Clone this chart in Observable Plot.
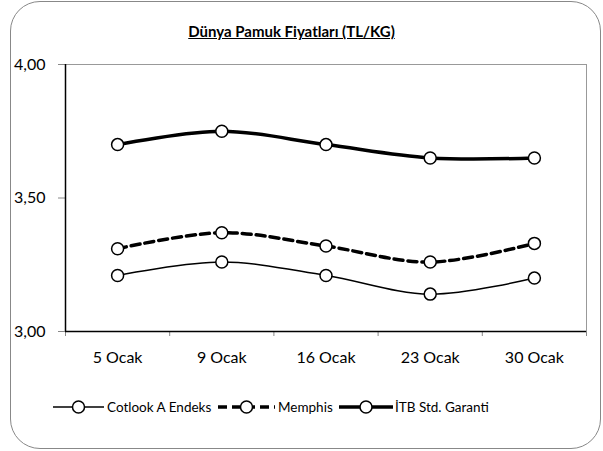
<!DOCTYPE html>
<html><head><meta charset="utf-8">
<script src="https://cdn.jsdelivr.net/npm/d3@7"></script>
<script src="https://cdn.jsdelivr.net/npm/@observablehq/plot@0.6"></script>
<style>
html,body{margin:0;padding:0;background:#fff;}
#wrap{position:relative;width:603px;height:451px;font-family:Lato,"Open Sans",sans-serif;}
#border{position:absolute;left:10px;top:1px;width:591px;height:448px;border:1px solid #888;border-radius:30px;box-sizing:border-box;}
#title{position:absolute;left:0;width:583px;top:22px;text-align:center;font-weight:bold;font-size:15px;text-decoration:underline;color:#000;}
#chart{position:absolute;left:0;top:0;}
#legend{position:absolute;left:0;top:397px;width:603px;height:20px;}
</style></head>
<body><div id="wrap"><div id="border"></div><div id="title">Dünya Pamuk Fiyatları (TL/KG)</div><div id="chart"></div><svg id="legend" width="603" height="20"></svg></div>
<script>
const dates = ["5 Ocak", "9 Ocak", "16 Ocak", "23 Ocak", "30 Ocak"];
const cotlook = [3.21, 3.26, 3.21, 3.14, 3.20];
const memphis = [3.31, 3.37, 3.32, 3.26, 3.33];
const itb = [3.70, 3.75, 3.70, 3.65, 3.65];
const seriesNames = ["Cotlook A Endeks", "Memphis", "İTB Std. Garanti"];
const yTicks = [3.0, 3.5, 4.0];

const styles = {
  "Cotlook A Endeks": {strokeWidth: 1.5, dash: null},
  "Memphis": {strokeWidth: 3.5, dash: "9,5"},
  "İTB Std. Garanti": {strokeWidth: 3.5, dash: null}
};
const seriesVals = [cotlook, memphis, itb];
const rows = seriesNames.flatMap((s, k) => seriesVals[k].map((v, i) => ({series: s, i, v})));
const idx = dates.map((d, i) => i);
const bounds = dates.map((d, i) => i - 0.5).concat([dates.length - 0.5]);
const fmt = d => d.toFixed(2).replace(".", ",");

const marks = [
  Plot.frame({stroke: "#999", strokeWidth: 1}),
  Plot.axisY({ticks: yTicks, tickFormat: fmt, tickSize: 7, tickPadding: 13, fontSize: 16, stroke: "#888", color: "#000", label: null}),
  Plot.axisX({ticks: bounds, tickFormat: () => "", tickSize: 5, stroke: "#888", label: null}),
  Plot.axisX({ticks: idx, tickFormat: i => dates[i], tickSize: 0, tickPadding: 20, fontSize: 16, label: null}),
  Plot.ruleX([-0.5], {stroke: "#000", strokeWidth: 1.5}),
  Plot.ruleY([3], {stroke: "#000", strokeWidth: 1.5})
];
for (const s of seriesNames) {
  const data = rows.filter(r => r.series === s);
  const st = styles[s];
  marks.push(Plot.line(data, {x: "i", y: "v", curve: "catmull-rom", stroke: "#000", strokeWidth: st.strokeWidth, strokeDasharray: st.dash}));
}
for (const s of seriesNames) {
  const data = rows.filter(r => r.series === s);
  marks.push(Plot.dot(data, {x: "i", y: "v", r: 6, fill: "#fff", stroke: "#000", strokeWidth: 1.5}));
}

const chart = Plot.plot({
  width: 603, height: 451,
  marginLeft: 65, marginRight: 17, marginTop: 64, marginBottom: 120,
  style: {fontFamily: "Lato, 'Open Sans', sans-serif", color: "#000", background: "transparent"},
  x: {type: "linear", domain: [-0.5, dates.length - 0.5], axis: null, label: null},
  y: {domain: [3, 4], axis: null, label: null},
  marks
});
document.getElementById("chart").appendChild(chart);

// legend
const leg = d3.select("#legend");
const items = [
  {name: seriesNames[0], x0: 53, x1: 104, tx: 107},
  {name: seriesNames[1], x0: 218, x1: 275, tx: 278},
  {name: seriesNames[2], x0: 339, x1: 393, tx: 395}
];
for (const it of items) {
  const st = styles[it.name];
  leg.append("line").attr("x1", it.x0).attr("x2", it.x1).attr("y1", 10).attr("y2", 10)
    .attr("stroke", "#000").attr("stroke-width", st.strokeWidth).attr("stroke-dasharray", st.dash);
  leg.append("circle").attr("cx", (it.x0 + it.x1) / 2).attr("cy", 10).attr("r", 6)
    .attr("fill", "#fff").attr("stroke", "#000").attr("stroke-width", 1.5);
  leg.append("text").attr("x", it.tx).attr("y", 10).attr("dy", "0.35em")
    .attr("font-size", 13.5).attr("font-family", "Lato, 'Open Sans', sans-serif").text(it.name);
}
</script></body></html>
